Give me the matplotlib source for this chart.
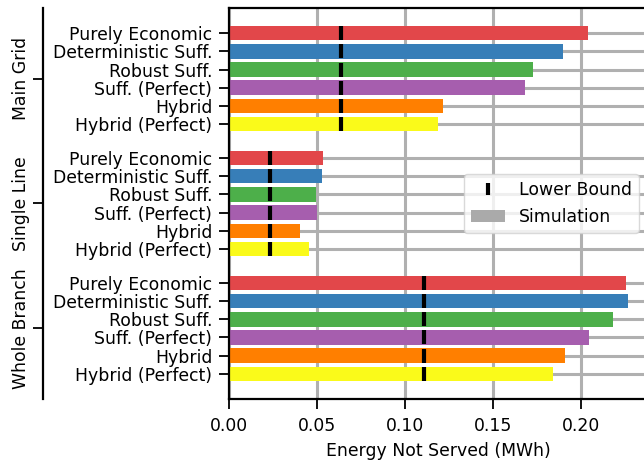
import numpy as np
import matplotlib
matplotlib.use("Agg")
import matplotlib.pyplot as plt
from matplotlib.patches import Patch
from matplotlib.lines import Line2D

# energy not served per strategy, grouped by test network (MWh)
groups = ["Main Grid", "Single Line", "Whole Branch"]
strategies = ["Purely Economic", "Deterministic Suff.", "Robust Suff.",
              "Suff. (Perfect)", "Hybrid", "Hybrid (Perfect)"]
simulation = {
    "Main Grid":    [0.2038, 0.1896, 0.1725, 0.1680, 0.1214, 0.1186],
    "Single Line":  [0.0532, 0.0527, 0.0493, 0.0500, 0.0403, 0.0455],
    "Whole Branch": [0.2254, 0.2265, 0.2180, 0.2044, 0.1907, 0.1840],
}
lower_bound = {"Main Grid": 0.0636, "Single Line": 0.0233, "Whole Branch": 0.1110}

colors = ["#e2474a", "#377eb8", "#4daf4a", "#a65eae", "#ff7f00", "#fafa1a"]

fs = 12.4
plt.rcParams["font.family"] = "DejaVu Sans"
plt.rcParams["font.size"] = fs

fig = plt.figure(figsize=(6.44, 4.66), dpi=100)
ax = fig.add_axes([229 / 644, 67 / 466, 418.5 / 644, 391 / 466])

step = len(strategies) + 0.85
ypos, ylabels, gcenters = [], [], []
for g, name in enumerate(groups):
    y = g * step + np.arange(len(strategies))
    ax.barh(y, simulation[name], height=0.8, color=colors, zorder=2)
    ax.plot([lower_bound[name]] * len(y), y, ls="none", marker="|",
            ms=10.6, mew=3, color="black", zorder=3)
    ypos.extend(y)
    ylabels.extend(strategies)
    gcenters.append(y.mean())

ax.set_yticks(ypos)
ax.set_yticklabels(ylabels)
ax.invert_yaxis()
ax.set_xticks([0.0, 0.05, 0.10, 0.15, 0.20])
ax.set_xticklabels(["0.00", "0.05", "0.10", "0.15", "0.20"])
ax.set_xlabel("Energy Not Served (MWh)", labelpad=5)
ax.grid(True, color="#b0b0b0", lw=2.2)
ax.set_axisbelow(True)
ax.tick_params(length=7, width=1.3, pad=5)
ax.tick_params(axis="x", pad=6)
for s in ax.spines.values():
    s.set_linewidth(1.6)

# outer axis carrying the network names (offset given in points)
ax2 = ax.twinx()
ax2.set_ylim(ax.get_ylim())
ax2.yaxis.set_ticks_position("left")
ax2.spines["left"].set_position(("outward", 186.3 * 72 / 100))
for side in ["right", "top", "bottom"]:
    ax2.spines[side].set_visible(False)
ax2.spines["left"].set_linewidth(1.6)
ax2.set_yticks(gcenters)
ax2.set_yticklabels(groups, rotation=90, va="center")
ax2.tick_params(length=7, width=1.3, pad=2.5)

handles = [
    Line2D([], [], ls="none", marker="|", ms=9, mew=3, color="black"),
    Patch(facecolor="#aaaaaa"),
]
ax.legend(handles, ["Lower Bound", "Simulation"], loc="center right",
          framealpha=0.8, edgecolor="#d0d0d0")

fig.savefig("out.png", dpi=100)
